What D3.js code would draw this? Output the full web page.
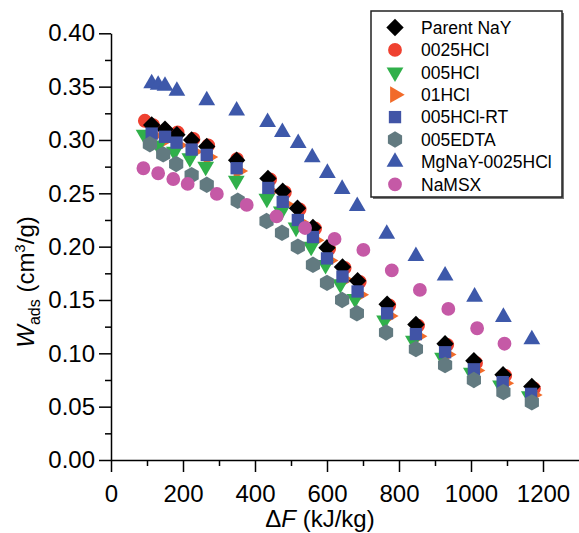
<!DOCTYPE html>
<html>
<head>
<meta charset="utf-8">
<script src="https://cdn.jsdelivr.net/npm/d3@7"></script>
<style>
  body { margin: 0; background: #fff; }
  svg { font-family: "Liberation Sans", Arial, sans-serif; }
</style>
</head>
<body>
<div id="chart"></div>
<script>
// series data (ΔF in kJ/kg, W in cm3/g)
const parentX = [113, 150, 183, 224, 266, 349, 436, 477, 518, 561, 600, 643, 685, 767, 847, 928, 1008, 1089, 1169];
const parentY = [0.314, 0.310, 0.305, 0.300, 0.294, 0.281, 0.264, 0.252, 0.236, 0.218, 0.199, 0.181, 0.168, 0.146, 0.127, 0.109, 0.093, 0.080, 0.069];

const hcl0025X = [94, 117, 150, 185, 229, 270, 350, 442, 483, 524, 567, 606, 649, 691, 773, 853, 934, 1014, 1095, 1175];
const hcl0025Y = [0.318, 0.314, 0.309, 0.307, 0.301, 0.295, 0.282, 0.263, 0.251, 0.235, 0.217, 0.198, 0.180, 0.167, 0.145, 0.126, 0.108, 0.091, 0.079, 0.067];

const hcl005X = [92, 131, 176, 219, 263, 348, 433, 473, 514, 556, 596, 637, 678, 760, 840, 921, 1001, 1082, 1162];
const hcl005Y = [0.305, 0.295, 0.289, 0.283, 0.275, 0.262, 0.245, 0.233, 0.218, 0.200, 0.183, 0.165, 0.151, 0.131, 0.112, 0.096, 0.082, 0.070, 0.060];

const hcl01X = [118, 155, 187, 229, 271, 354, 442, 482, 524, 566, 605, 648, 690, 772, 852, 933, 1013, 1093, 1172];
const hcl01Y = [0.304, 0.301, 0.295, 0.289, 0.284, 0.271, 0.252, 0.240, 0.223, 0.206, 0.187, 0.169, 0.155, 0.135, 0.116, 0.099, 0.084, 0.072, 0.061];

const rtX = [113, 150, 182, 224, 266, 349, 437, 477, 519, 561, 600, 643, 685, 767, 847, 928, 1008, 1088, 1167];
const rtY = [0.306, 0.303, 0.2975, 0.291, 0.286, 0.2735, 0.255, 0.242, 0.225, 0.209, 0.189, 0.172, 0.158, 0.1375, 0.118, 0.101, 0.085, 0.073, 0.062];

const edtaX = [108, 145, 181, 224, 266, 352, 432, 475, 519, 561, 600, 642, 683, 764, 847, 928, 1008, 1090, 1169];
const edtaY = [0.296, 0.2865, 0.2775, 0.267, 0.258, 0.243, 0.224, 0.213, 0.200, 0.183, 0.166, 0.150, 0.1375, 0.1195, 0.104, 0.089, 0.075, 0.0636, 0.054];

const mgX = [113, 131, 150, 183, 266, 349, 435, 476, 520, 559, 601, 642, 684, 766, 847, 928, 1010, 1090, 1169];
const mgY = [0.353, 0.3516, 0.3506, 0.346, 0.337, 0.3275, 0.3166, 0.3073, 0.297, 0.2836, 0.269, 0.254, 0.238, 0.212, 0.191, 0.1727, 0.153, 0.134, 0.113];

const msxX = [90, 131, 173, 213, 294, 377, 460, 539, 621, 701, 780, 858, 937, 1017, 1093];
const msxY = [0.2735, 0.2688, 0.2634, 0.2588, 0.2494, 0.2391, 0.2283, 0.2175, 0.2072, 0.1969, 0.1777, 0.1594, 0.1416, 0.1235, 0.109];

const legendNames = ["Parent NaY", "0025HCl", "005HCl", "01HCl", "005HCl-RT", "005EDTA", "MgNaY-0025HCl", "NaMSX"];
const xTicks = [0, 200, 400, 600, 800, 1000, 1200];
const yTicks = [0, 0.05, 0.10, 0.15, 0.20, 0.25, 0.30, 0.35, 0.40];

// marker shapes
const triPath = d3.symbol().type(d3.symbolTriangle).size(122)();
const shapes = {
  diamond: "M0,-8.7L8.7,0L0,8.7L-8.7,0Z",
  circle: d3.symbol().type(d3.symbolCircle).size(150)(),
  square: d3.symbol().type(d3.symbolSquare).size(152)(),
  triUp: triPath,
  hexagon: d3.range(6).map(i => {
    const a = Math.PI / 3 * i - Math.PI / 2;
    return (i ? "L" : "M") + (8.2 * Math.cos(a)).toFixed(2) + "," + (8.2 * Math.sin(a)).toFixed(2);
  }).join("") + "Z"
};

// legend order
const series = [
  { name: legendNames[0], xs: parentX, ys: parentY, shape: "diamond", rot: 0, color: "#000000" },
  { name: legendNames[1], xs: hcl0025X, ys: hcl0025Y, shape: "circle", rot: 0, color: "#EF4130" },
  { name: legendNames[2], xs: hcl005X, ys: hcl005Y, shape: "triUp", rot: 180, color: "#30B04A" },
  { name: legendNames[3], xs: hcl01X, ys: hcl01Y, shape: "triUp", rot: 90, color: "#F26B2A" },
  { name: legendNames[4], xs: rtX, ys: rtY, shape: "square", rot: 0, color: "#4154A6" },
  { name: legendNames[5], xs: edtaX, ys: edtaY, shape: "hexagon", rot: 0, color: "#627A80" },
  { name: legendNames[6], xs: mgX, ys: mgY, shape: "triUp", rot: 0, color: "#3D58AA" },
  { name: legendNames[7], xs: msxX, ys: msxY, shape: "circle", rot: 0, color: "#C559A6" }
];
// drawing order (which marks sit on top)
const drawOrder = [1, 3, 2, 0, 4, 5, 6, 7];

const W = 579, H = 533;
const svg = d3.select("#chart").append("svg")
  .attr("width", W)
  .attr("height", H);

const x = d3.scaleLinear().domain([0, 1300]).range([111, 579]);
const y = d3.scaleLinear().domain([0, 0.40]).range([460, 33.3]);

// minor ticks
svg.append("g")
  .attr("transform", "translate(0,460)")
  .call(d3.axisBottom(x).tickValues(d3.range(100, 1300, 200)).tickSize(6).tickSizeOuter(0).tickFormat(""))
  .call(g => g.select(".domain").remove())
  .selectAll("line").attr("stroke-width", 1.5);
svg.append("g")
  .attr("transform", "translate(111,0)")
  .call(d3.axisLeft(y).tickValues(d3.range(0.025, 0.4, 0.05)).tickSize(6).tickSizeOuter(0).tickFormat(""))
  .call(g => g.select(".domain").remove())
  .selectAll("line").attr("stroke-width", 1.5);

// major axes
const xAxis = svg.append("g")
  .attr("transform", "translate(0,460)")
  .call(d3.axisBottom(x).tickValues(xTicks).tickSize(12).tickPadding(13).tickSizeOuter(0).tickFormat(d3.format("d")));
const yAxis = svg.append("g")
  .attr("transform", "translate(111,0)")
  .call(d3.axisLeft(y).tickValues(yTicks).tickSize(12).tickPadding(4).tickSizeOuter(0).tickFormat(d3.format(".2f")));

[xAxis, yAxis].forEach(g => {
  g.attr("font-family", "'Liberation Sans', Arial, sans-serif");
  g.selectAll("line").attr("stroke-width", 1.5);
  g.select(".domain").attr("stroke-width", 1.5);
  g.selectAll("text").attr("font-size", 24).attr("fill", "#000");
});

// axis titles
const xTitle = svg.append("text")
  .attr("x", 320)
  .attr("y", 527)
  .attr("text-anchor", "middle")
  .attr("font-size", 24);
xTitle.append("tspan").text("\u0394");
xTitle.append("tspan").attr("font-style", "italic").text("F");
xTitle.append("tspan").text(" (kJ/kg)");

const yTitle = svg.append("text")
  .attr("transform", "translate(34,282) rotate(-90)")
  .attr("text-anchor", "middle")
  .attr("font-size", 24);
yTitle.append("tspan").attr("font-style", "italic").text("W");
yTitle.append("tspan").attr("font-size", 16).attr("dy", 6).text("ads");
yTitle.append("tspan").attr("dy", -6).text(" (cm");
yTitle.append("tspan").attr("font-size", 15).attr("dy", -9).text("3");
yTitle.append("tspan").attr("dy", 9).text("/g)");

// markers
drawOrder.forEach(i => {
  const s = series[i];
  svg.append("g")
    .selectAll("path")
    .data(s.xs.map((v, k) => [v, s.ys[k]]))
    .enter()
    .append("path")
    .attr("d", shapes[s.shape])
    .attr("transform", d => `translate(${x(d[0])},${y(d[1])}) rotate(${s.rot})`)
    .attr("fill", s.color);
});

// legend
const legend = svg.append("g");
legend.append("rect")
  .attr("x", 373).attr("y", 13)
  .attr("width", 191).attr("height", 186)
  .attr("fill", "#777");
legend.append("rect")
  .attr("x", 371).attr("y", 11)
  .attr("width", 191).attr("height", 186)
  .attr("fill", "#fff")
  .attr("stroke", "#222")
  .attr("stroke-width", 1.5);

series.forEach((s, i) => {
  const cy = 27.5 + i * 22.4;
  legend.append("path")
    .attr("d", shapes[s.shape])
    .attr("transform", `translate(395,${cy}) rotate(${s.rot})`)
    .attr("fill", s.color);
  legend.append("text")
    .attr("x", 421)
    .attr("y", cy + 6.3)
    .attr("font-size", 17.5)
    .text(s.name);
});
</script>
</body>
</html>
